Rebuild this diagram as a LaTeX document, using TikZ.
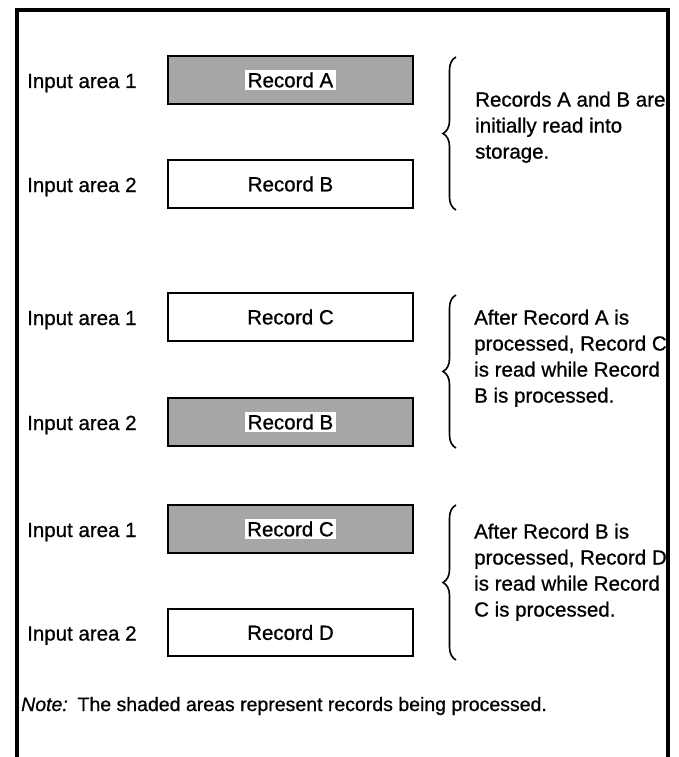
\documentclass[tikz,border=0pt]{standalone}
\usepackage{fontspec}
\setmainfont{Liberation Sans}
\newfontfamily\recfamily{Liberation Sans}[FakeBold=0.8]
\usetikzlibrary{positioning,decorations.pathreplacing}

\newcommand{\recfont}{\recfamily\fontsize{20.5}{26}\selectfont}

\tikzset{
  recbox/.style={draw, line width=2.4pt, minimum width=245.5pt, minimum height=47.5pt, inner sep=0pt, font=\recfont},
  busybox/.style={recbox, fill=black!35},
  inlabel/.style={fill=white, inner sep=2.5pt, font=\recfont},
  arealabel/.style={anchor=base west, inner sep=0pt, font=\recfont},
  sidetext/.style={anchor=north west, align=left, inner sep=0pt, font=\recfont},
  curly/.style={decorate, decoration={brace, amplitude=13pt}, line width=1.6pt},
}

\begin{document}
\begin{tikzpicture}[x=1pt, y=-1pt]
  \useasboundingbox (0,0) rectangle (678,757);

  % open frame
  \draw[line width=4pt] (17,757) -- (17,10.5) -- (668,10.5) -- (668,757);

  % records A and B
  \node[busybox] (recA) at (290.5,80) {};
  \node[inlabel] (recAtxt) at (recA) {Record A};
  \node[recbox] (recB) at (290.5,184) {Record B};
  \node[arealabel] (inA) at (27,88) {Input area 1};
  \node[arealabel] (inB) at (27,192) {Input area 2};
  \coordinate (brAtop) at (456,57);
  \coordinate (brAbot) at (456,210);
  \draw[curly] (brAbot) -- (brAtop);
  \node[sidetext] (txtA) at (475,91.5) {Records A and B are\\initially read into\\storage.};

  % records C and B
  \node[recbox] (recC) at (290.5,317) {Record C};
  \node[busybox] (recBb) at (290.5,422) {};
  \node[inlabel] (recBbtxt) at (recBb) {Record B};
  \node[arealabel] (inC) at (27,325) {Input area 1};
  \node[arealabel] (inBb) at (27,430) {Input area 2};
  \coordinate (brBtop) at (456,295);
  \coordinate (brBbot) at (456,448);
  \draw[curly] (brBbot) -- (brBtop);
  \node[sidetext] (txtB) at (474,309.5) {After Record A is\\processed, Record C\\is read while Record\\B is processed.};

  % records C and D
  \node[busybox] (recCc) at (290.5,529) {};
  \node[inlabel] (recCctxt) at (recCc) {Record C};
  \node[recbox] (recD) at (290.5,632.5) {Record D};
  \node[arealabel] (inCc) at (27,537) {Input area 1};
  \node[arealabel] (inD) at (27,640.5) {Input area 2};
  \coordinate (brCtop) at (456,505);
  \coordinate (brCbot) at (456,660);
  \draw[curly] (brCbot) -- (brCtop);
  \node[sidetext] (txtC) at (474,523.5) {After Record B is\\processed, Record D\\is read while Record\\C is processed.};

  \node[arealabel, font=\recfamily\fontsize{19.5}{24}\selectfont] (note) at (21,711)
    {\textit{Note:}\enspace The shaded areas represent records being processed.};
\end{tikzpicture}
\end{document}
